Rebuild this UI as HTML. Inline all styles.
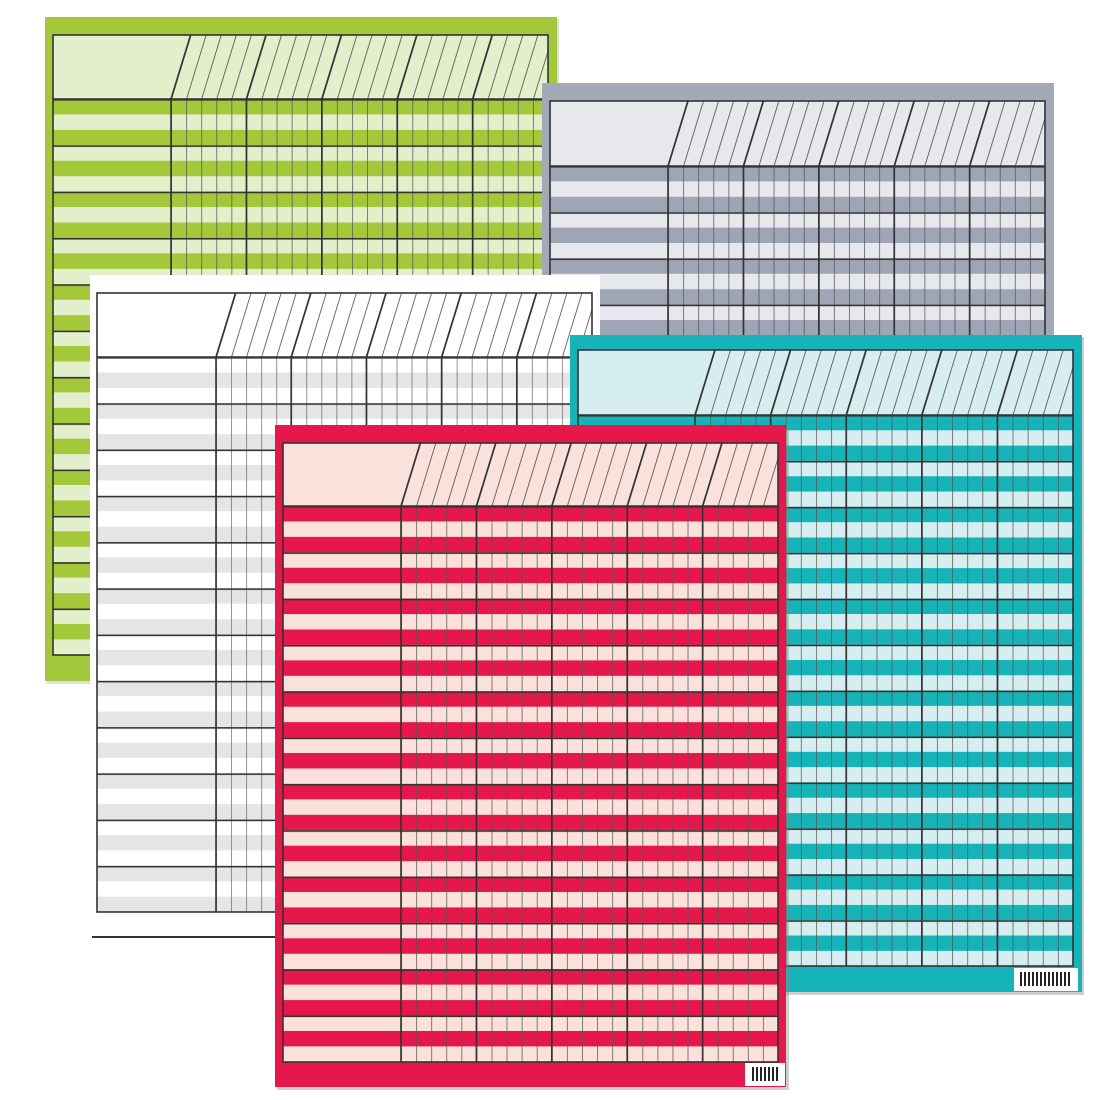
<!DOCTYPE html>
<html><head><meta charset="utf-8"><style>html,body{margin:0;padding:0;background:#fff}svg{display:block}</style></head><body>
<svg width="1100" height="1100" viewBox="0 0 1100 1100" xmlns="http://www.w3.org/2000/svg">
<defs>
<!-- green -->
<pattern id="sG" patternUnits="userSpaceOnUse" x="53" y="99" width="10" height="30.88"><rect width="10" height="15.44" fill="#a3c93a"/></pattern>
<pattern id="vG" patternUnits="userSpaceOnUse" x="171" y="0" width="15.08" height="10"><rect width="1" height="10" fill="#555" opacity="0.75"/></pattern>
<pattern id="hG" patternUnits="userSpaceOnUse" x="0" y="99" width="10" height="46.32"><rect width="10" height="1.6" fill="#333"/></pattern>
<pattern id="dG" patternUnits="userSpaceOnUse" width="15.08" height="100" patternTransform="translate(171,99) skewX(-17)"><rect width="1" height="100" fill="#444" opacity="0.8"/></pattern>
<!-- gray -->
<pattern id="sY" patternUnits="userSpaceOnUse" x="550" y="166" width="10" height="30.8"><rect width="10" height="15.4" fill="#9ea5b5"/></pattern>
<pattern id="vY" patternUnits="userSpaceOnUse" x="668" y="0" width="15.08" height="10"><rect width="1" height="10" fill="#555" opacity="0.75"/></pattern>
<pattern id="hY" patternUnits="userSpaceOnUse" x="0" y="166" width="10" height="46.2"><rect width="10" height="1.6" fill="#333"/></pattern>
<pattern id="dY" patternUnits="userSpaceOnUse" width="15.08" height="100" patternTransform="translate(668,166) skewX(-17)"><rect width="1" height="100" fill="#444" opacity="0.8"/></pattern>
<!-- white -->
<pattern id="sW" patternUnits="userSpaceOnUse" x="97" y="357" width="10" height="30.84"><rect y="15.42" width="10" height="15.42" fill="#e4e5e7"/></pattern>
<pattern id="vW" patternUnits="userSpaceOnUse" x="216" y="0" width="15.04" height="10"><rect width="1" height="10" fill="#666" opacity="0.7"/></pattern>
<pattern id="hW" patternUnits="userSpaceOnUse" x="0" y="357" width="10" height="46.26"><rect width="10" height="1.6" fill="#333"/></pattern>
<pattern id="dW" patternUnits="userSpaceOnUse" width="15.04" height="100" patternTransform="translate(216,357) skewX(-17)"><rect width="1" height="100" fill="#444" opacity="0.8"/></pattern>
<!-- teal -->
<pattern id="sT" patternUnits="userSpaceOnUse" x="578" y="415" width="10" height="30.62"><rect width="10" height="15.31" fill="#16b4b8"/></pattern>
<pattern id="vT" patternUnits="userSpaceOnUse" x="695" y="0" width="15.12" height="10"><rect width="1" height="10" fill="#555" opacity="0.75"/></pattern>
<pattern id="hT" patternUnits="userSpaceOnUse" x="0" y="415" width="10" height="45.93"><rect width="10" height="1.6" fill="#333"/></pattern>
<pattern id="dT" patternUnits="userSpaceOnUse" width="15.12" height="100" patternTransform="translate(695,415) skewX(-17)"><rect width="1" height="100" fill="#444" opacity="0.8"/></pattern>
<!-- red -->
<pattern id="sR" patternUnits="userSpaceOnUse" x="283" y="506" width="10" height="30.88"><rect width="10" height="15.44" fill="#e6174a"/></pattern>
<pattern id="vR" patternUnits="userSpaceOnUse" x="401" y="0" width="15.08" height="10"><rect width="1" height="10" fill="#555" opacity="0.75"/></pattern>
<pattern id="hR" patternUnits="userSpaceOnUse" x="0" y="506" width="10" height="46.32"><rect width="10" height="1.6" fill="#333"/></pattern>
<pattern id="dR" patternUnits="userSpaceOnUse" width="15.08" height="100" patternTransform="translate(401,506) skewX(-17)"><rect width="1" height="100" fill="#444" opacity="0.8"/></pattern>
<pattern id="bc" patternUnits="userSpaceOnUse" width="4" height="10"><rect width="2" height="10" fill="#222"/></pattern>
</defs>

<!-- GREEN -->
<g>
<rect x="47" y="19" width="512" height="665" fill="#bbb" opacity="0.5"/>
<rect x="45" y="17" width="512" height="664" fill="#a3c93a"/>
<rect x="53" y="35" width="495" height="620" fill="#e3eecb"/>
<rect x="53" y="99" width="495" height="556" fill="url(#sG)"/>
<rect x="171" y="99" width="377" height="556" fill="url(#vG)"/>
<rect x="53" y="99" width="495" height="556" fill="url(#hG)"/>
<polygon points="171,99 190.6,35 548,35 548,99" fill="url(#dG)"/>
<g stroke="#333" stroke-width="1.6">
<line x1="171" y1="99" x2="171" y2="655"/><line x1="246.4" y1="99" x2="246.4" y2="655"/><line x1="321.8" y1="99" x2="321.8" y2="655"/><line x1="397.2" y1="99" x2="397.2" y2="655"/><line x1="472.6" y1="99" x2="472.6" y2="655"/>
<line x1="171" y1="99" x2="190.6" y2="35"/><line x1="246.4" y1="99" x2="266" y2="35"/><line x1="321.8" y1="99" x2="341.4" y2="35"/><line x1="397.2" y1="99" x2="416.8" y2="35"/><line x1="472.6" y1="99" x2="492.2" y2="35"/>
<line x1="53" y1="99" x2="548" y2="99"/>
<rect x="53" y="35" width="495" height="620" fill="none"/>
</g>
</g>

<!-- GRAY -->
<g>
<rect x="542" y="83" width="512" height="620" fill="#a3a9b6"/>
<rect x="550" y="101" width="495" height="600" fill="#e6e8ee"/>
<rect x="550" y="166" width="495" height="534" fill="url(#sY)"/>
<rect x="668" y="166" width="377" height="534" fill="url(#vY)"/>
<rect x="550" y="166" width="495" height="534" fill="url(#hY)"/>
<polygon points="668,166 687.9,101 1045,101 1045,166" fill="url(#dY)"/>
<g stroke="#333" stroke-width="1.6">
<line x1="668" y1="166" x2="668" y2="700"/><line x1="743.4" y1="166" x2="743.4" y2="700"/><line x1="818.8" y1="166" x2="818.8" y2="700"/><line x1="894.2" y1="166" x2="894.2" y2="700"/><line x1="969.6" y1="166" x2="969.6" y2="700"/>
<line x1="668" y1="166" x2="687.9" y2="101"/><line x1="743.4" y1="166" x2="763.3" y2="101"/><line x1="818.8" y1="166" x2="838.7" y2="101"/><line x1="894.2" y1="166" x2="914.1" y2="101"/><line x1="969.6" y1="166" x2="989.5" y2="101"/>
<line x1="550" y1="166" x2="1045" y2="166"/>
<rect x="550" y="101" width="495" height="600" fill="none"/>
</g>
</g>

<!-- WHITE -->
<g>
<rect x="90" y="275" width="510" height="662" fill="#fff"/>
<line x1="92" y1="937" x2="278" y2="937" stroke="#333" stroke-width="2"/>
<rect x="97" y="357" width="495" height="555" fill="url(#sW)"/>
<rect x="216" y="357" width="376" height="555" fill="url(#vW)"/>
<rect x="97" y="357" width="495" height="555" fill="url(#hW)"/>
<polygon points="216,357 235.6,293 592,293 592,357" fill="url(#dW)"/>
<g stroke="#333" stroke-width="1.6">
<line x1="216" y1="357" x2="216" y2="912"/><line x1="291.2" y1="357" x2="291.2" y2="912"/><line x1="366.4" y1="357" x2="366.4" y2="912"/><line x1="441.6" y1="357" x2="441.6" y2="912"/><line x1="516.8" y1="357" x2="516.8" y2="912"/>
<line x1="216" y1="357" x2="235.6" y2="293"/><line x1="291.2" y1="357" x2="310.8" y2="293"/><line x1="366.4" y1="357" x2="386" y2="293"/><line x1="441.6" y1="357" x2="461.2" y2="293"/><line x1="516.8" y1="357" x2="536.4" y2="293"/>
<line x1="97" y1="357" x2="592" y2="357"/>
<rect x="97" y="293" width="495" height="619" fill="none"/>
</g>
</g>

<!-- TEAL -->
<g>
<rect x="572" y="337" width="512" height="658" fill="#888" opacity="0.4"/>
<rect x="570" y="335" width="512" height="657" fill="#16b4b8"/>
<rect x="578" y="350" width="495" height="616" fill="#d6eef0"/>
<rect x="578" y="415" width="495" height="551" fill="url(#sT)"/>
<rect x="695" y="415" width="378" height="551" fill="url(#vT)"/>
<rect x="578" y="415" width="495" height="551" fill="url(#hT)"/>
<polygon points="695,415 714.9,350 1073,350 1073,415" fill="url(#dT)"/>
<g stroke="#333" stroke-width="1.6">
<line x1="695" y1="415" x2="695" y2="966"/><line x1="770.6" y1="415" x2="770.6" y2="966"/><line x1="846.2" y1="415" x2="846.2" y2="966"/><line x1="921.8" y1="415" x2="921.8" y2="966"/><line x1="997.4" y1="415" x2="997.4" y2="966"/>
<line x1="695" y1="415" x2="714.9" y2="350"/><line x1="770.6" y1="415" x2="790.5" y2="350"/><line x1="846.2" y1="415" x2="866.1" y2="350"/><line x1="921.8" y1="415" x2="941.7" y2="350"/><line x1="997.4" y1="415" x2="1017.3" y2="350"/>
<line x1="578" y1="415" x2="1073" y2="415"/>
<rect x="578" y="350" width="495" height="616" fill="none"/>
</g>
<rect x="1014" y="968" width="64" height="23" fill="#fff"/>
<rect x="1020" y="972" width="52" height="14" fill="url(#bc)"/>
</g>

<!-- RED -->
<g>
<rect x="277" y="427" width="512" height="663" fill="#888" opacity="0.4"/>
<rect x="275" y="425" width="511" height="662" fill="#e6174a"/>
<rect x="283" y="443" width="495" height="619" fill="#fbe1dc"/>
<rect x="283" y="506" width="495" height="556" fill="url(#sR)"/>
<rect x="401" y="506" width="377" height="556" fill="url(#vR)"/>
<rect x="283" y="506" width="495" height="556" fill="url(#hR)"/>
<polygon points="401,506 420.3,443 778,443 778,506" fill="url(#dR)"/>
<g stroke="#333" stroke-width="1.6">
<line x1="401" y1="506" x2="401" y2="1062"/><line x1="476.4" y1="506" x2="476.4" y2="1062"/><line x1="551.8" y1="506" x2="551.8" y2="1062"/><line x1="627.2" y1="506" x2="627.2" y2="1062"/><line x1="702.6" y1="506" x2="702.6" y2="1062"/>
<line x1="401" y1="506" x2="420.3" y2="443"/><line x1="476.4" y1="506" x2="495.7" y2="443"/><line x1="551.8" y1="506" x2="571.1" y2="443"/><line x1="627.2" y1="506" x2="646.5" y2="443"/><line x1="702.6" y1="506" x2="721.9" y2="443"/>
<line x1="283" y1="506" x2="778" y2="506"/>
<rect x="283" y="443" width="495" height="619" fill="none"/>
</g>
<rect x="745" y="1063" width="40" height="23" fill="#fff"/>
<rect x="750" y="1067" width="30" height="14" fill="url(#bc)"/>
</g>
</svg>
</body></html>
